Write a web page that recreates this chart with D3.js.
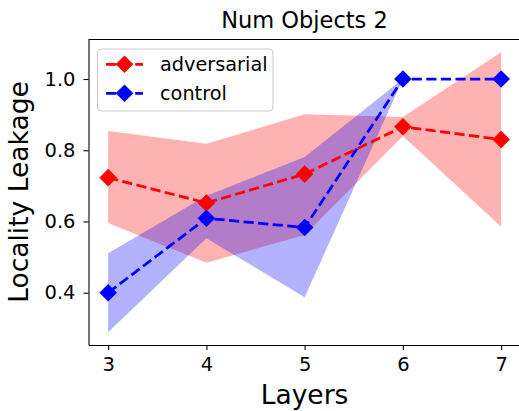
<!DOCTYPE html>
<html>
<head>
<meta charset="utf-8">
<script src="https://cdn.jsdelivr.net/npm/d3@7"></script>
<style>
  body { margin: 0; background: #fff; }
  text { font-family: "DejaVu Sans", sans-serif; fill: #000; }
</style>
</head>
<body>
<div id="chart"></div>
<script>
var layers = [3, 4, 5, 6, 7];
var xTicks = [3, 4, 5, 6, 7];
var yTicks = [0.4, 0.6, 0.8, 1.0];

var advMean = [0.723, 0.652, 0.733, 0.866, 0.830];
var advLow  = [0.596, 0.484, 0.562, 0.840, 0.585];
var advHigh = [0.854, 0.818, 0.901, 0.893, 1.075];

var ctrlMean = [0.400, 0.609, 0.583, 1.0, 1.0];
var ctrlLow  = [0.289, 0.553, 0.387, 1.0, 1.0];
var ctrlHigh = [0.511, 0.672, 0.781, 1.0, 1.0];

var seriesNames = ["adversarial", "control"];
var seriesColors = ["#ff0000", "#0000ff"];

var width = 519, height = 411;

var svg = d3.select("#chart").append("svg")
    .attr("width", width)
    .attr("height", height);

var x = d3.scaleLinear().domain([2.8, 7.2]).range([88.5, 520.8]);
var y = d3.scaleLinear().domain([0.2532, 1.1109]).range([345, 39.5]);

var series = [
  {name: seriesNames[0], color: seriesColors[0], mean: advMean, lo: advLow, hi: advHigh},
  {name: seriesNames[1], color: seriesColors[1], mean: ctrlMean, lo: ctrlLow, hi: ctrlHigh}
];

var area = d3.area()
    .x(function(d) { return x(d.l); })
    .y0(function(d) { return y(d.lo); })
    .y1(function(d) { return y(d.hi); });

var line = d3.line()
    .x(function(d) { return x(d.l); })
    .y(function(d) { return y(d.m); });

function rows(s) {
  return layers.map(function(l, i) {
    return {l: l, m: s.mean[i], lo: s.lo[i], hi: s.hi[i]};
  });
}

var diamond = "M0,-8.8L8.8,0L0,8.8L-8.8,0Z";

// bands first
series.forEach(function(s) {
  svg.append("path")
    .attr("d", area(rows(s)))
    .attr("fill", s.color)
    .attr("fill-opacity", 0.3);
});

// lines + markers
series.forEach(function(s) {
  svg.append("path")
    .attr("d", line(rows(s)))
    .attr("fill", "none")
    .attr("stroke", s.color)
    .attr("stroke-width", 2.75)
    .attr("stroke-dasharray", "10.2,4.4");
  svg.selectAll(null)
    .data(rows(s))
    .enter().append("path")
    .attr("d", diamond)
    .attr("transform", function(d) { return "translate(" + x(d.l) + "," + y(d.m) + ")"; })
    .attr("fill", s.color);
});

// axes
var xAxis = svg.append("g")
    .attr("transform", "translate(0,345)")
    .call(d3.axisBottom(x).tickValues(xTicks).tickFormat(d3.format("d"))
      .tickSizeInner(5).tickSizeOuter(0).tickPadding(7));
var yAxis = svg.append("g")
    .attr("transform", "translate(88.5,0)")
    .call(d3.axisLeft(y).tickValues(yTicks).tickFormat(d3.format(".1f"))
      .tickSizeInner(5).tickSizeOuter(0).tickPadding(8));

[xAxis, yAxis].forEach(function(a) {
  a.select(".domain").attr("stroke", "#000").attr("stroke-width", 1.1);
  a.selectAll(".tick line").attr("stroke", "#000").attr("stroke-width", 1.1);
  a.selectAll(".tick text").style("font-size", "19.5px").style("font-family", "DejaVu Sans");
});

// top and right spines
svg.append("line").attr("x1", 88.5).attr("x2", 520.8).attr("y1", 39.5).attr("y2", 39.5)
  .attr("stroke", "#000").attr("stroke-width", 1.1);
svg.append("line").attr("x1", 520.8).attr("x2", 520.8).attr("y1", 39.5).attr("y2", 345)
  .attr("stroke", "#000").attr("stroke-width", 1.1);

// title and labels
svg.append("text")
  .attr("x", 304.5).attr("y", 28)
  .attr("text-anchor", "middle")
  .style("font-size", "22.5px")
  .text("Num Objects 2");

svg.append("text")
  .attr("x", 304.5).attr("y", 404)
  .attr("text-anchor", "middle")
  .style("font-size", "26.5px")
  .text("Layers");

svg.append("text")
  .attr("transform", "translate(28,192) rotate(-90)")
  .attr("text-anchor", "middle")
  .style("font-size", "26.5px")
  .text("Locality Leakage");

// legend
var legend = svg.append("g");
legend.append("rect")
  .attr("x", 97.5).attr("y", 49)
  .attr("width", 175.5).attr("height", 62)
  .attr("rx", 4)
  .attr("fill", "#fff").attr("fill-opacity", 0.8)
  .attr("stroke", "#cccccc").attr("stroke-width", 1.1);

series.forEach(function(s, i) {
  var yy = 64.3 + i * 29;
  legend.append("line")
    .attr("x1", 106).attr("x2", 143).attr("y1", yy).attr("y2", yy)
    .attr("stroke", s.color).attr("stroke-width", 2.75)
    .attr("stroke-dasharray", "10.2,4.4");
  legend.append("path")
    .attr("d", diamond)
    .attr("transform", "translate(124.5," + yy + ")")
    .attr("fill", s.color);
  legend.append("text")
    .attr("x", 160).attr("y", yy + 7)
    .style("font-size", "19.3px")
    .text(s.name);
});
</script>
</body>
</html>
